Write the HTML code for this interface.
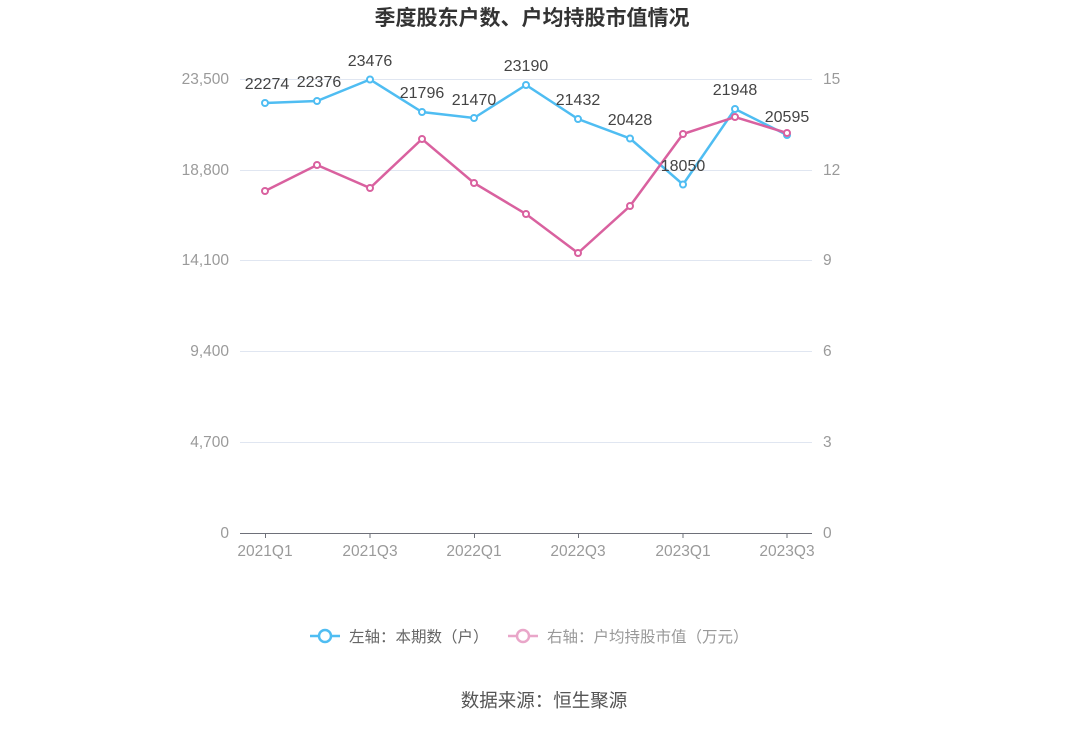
<!DOCTYPE html>
<html><head><meta charset="utf-8"><style>
body{margin:0;background:#fff;width:1089px;height:728px;overflow:hidden}
svg text{font-family:"Liberation Sans","Noto Sans CJK SC",sans-serif}
</style></head><body>
<svg width="1089" height="728" viewBox="0 0 1089 728">
<text x="532" y="25" text-anchor="middle" font-size="21" font-weight="bold" fill="#333">季度股东户数、户均持股市值情况</text>
<g stroke="#e0e6f1" stroke-width="1">
<line x1="240" y1="79.5" x2="812" y2="79.5"/>
<line x1="240" y1="170.5" x2="812" y2="170.5"/>
<line x1="240" y1="260.5" x2="812" y2="260.5"/>
<line x1="240" y1="351.5" x2="812" y2="351.5"/>
<line x1="240" y1="442.5" x2="812" y2="442.5"/>
</g>
<line x1="240" y1="533.5" x2="812" y2="533.5" stroke="#6e7079"/>
<g stroke="#6e7079">
<line x1="265.5" y1="533" x2="265.5" y2="538"/><line x1="370" y1="533" x2="370" y2="538"/><line x1="474.5" y1="533" x2="474.5" y2="538"/><line x1="578.5" y1="533" x2="578.5" y2="538"/><line x1="683" y1="533" x2="683" y2="538"/><line x1="787" y1="533" x2="787" y2="538"/>
</g>
<g font-size="15.5" fill="#9a9a9a" text-anchor="end">
<text x="229" y="84">23,500</text><text x="229" y="175">18,800</text><text x="229" y="265">14,100</text><text x="229" y="356">9,400</text><text x="229" y="447">4,700</text><text x="229" y="538">0</text>
</g>
<g font-size="15.5" fill="#9a9a9a">
<text x="823" y="84">15</text><text x="823" y="175">12</text><text x="823" y="265">9</text><text x="823" y="356">6</text><text x="823" y="447">3</text><text x="823" y="538">0</text>
</g>
<g font-size="15.5" fill="#9a9a9a" text-anchor="middle">
<text x="265" y="556">2021Q1</text><text x="370" y="556">2021Q3</text><text x="474" y="556">2022Q1</text><text x="578" y="556">2022Q3</text><text x="683" y="556">2023Q1</text><text x="787" y="556">2023Q3</text>
</g>
<polyline fill="none" stroke="#4fbdf2" stroke-width="2.5" points="265,103 317,101 370,79.5 422,112 474,118 526,85 578,119 630,138.5 683,184.5 735,109 787,135"/>
<g fill="#fff" stroke="#4fbdf2" stroke-width="2">
<circle cx="265" cy="103" r="3"/><circle cx="317" cy="101" r="3"/><circle cx="370" cy="79.5" r="3"/><circle cx="422" cy="112" r="3"/><circle cx="474" cy="118" r="3"/><circle cx="526" cy="85" r="3"/><circle cx="578" cy="119" r="3"/><circle cx="630" cy="138.5" r="3"/><circle cx="683" cy="184.5" r="3"/><circle cx="735" cy="109" r="3"/><circle cx="787" cy="135" r="3"/>
</g>
<polyline fill="none" stroke="#d9619f" stroke-width="2.5" points="265,191 317,165 370,188 422,139 474,183 526,214 578,253 630,206 683,134 735,117 787,133"/>
<g fill="#fff" stroke="#d9619f" stroke-width="2">
<circle cx="265" cy="191" r="3"/><circle cx="317" cy="165" r="3"/><circle cx="370" cy="188" r="3"/><circle cx="422" cy="139" r="3"/><circle cx="474" cy="183" r="3"/><circle cx="526" cy="214" r="3"/><circle cx="578" cy="253" r="3"/><circle cx="630" cy="206" r="3"/><circle cx="683" cy="134" r="3"/><circle cx="735" cy="117" r="3"/><circle cx="787" cy="133" r="3"/>
</g>
<g font-size="16" fill="#444" text-anchor="middle">
<text x="267" y="89">22274</text><text x="319" y="87">22376</text><text x="370" y="66">23476</text><text x="422" y="98">21796</text><text x="474" y="105">21470</text><text x="526" y="71">23190</text><text x="578" y="105">21432</text><text x="630" y="125">20428</text><text x="683" y="171">18050</text><text x="735" y="95">21948</text><text x="787" y="122">20595</text>
</g>
<g>
<line x1="310" y1="636" x2="340" y2="636" stroke="#4fbdf2" stroke-width="2.5"/>
<circle cx="325" cy="636" r="6" fill="#fff" stroke="#4fbdf2" stroke-width="2.5"/>
<text x="349" y="642" font-size="15.5" fill="#666">左轴：本期数（户）</text>
<line x1="508" y1="636" x2="538" y2="636" stroke="#e9a6c9" stroke-width="2.5"/>
<circle cx="523" cy="636" r="6" fill="#fff" stroke="#e9a6c9" stroke-width="2.5"/>
<text x="547" y="642" font-size="15.5" fill="#999">右轴：户均持股市值（万元）</text>
</g>
<text x="544" y="707" text-anchor="middle" font-size="18.5" fill="#555">数据来源：恒生聚源</text>
</svg>
</body></html>
